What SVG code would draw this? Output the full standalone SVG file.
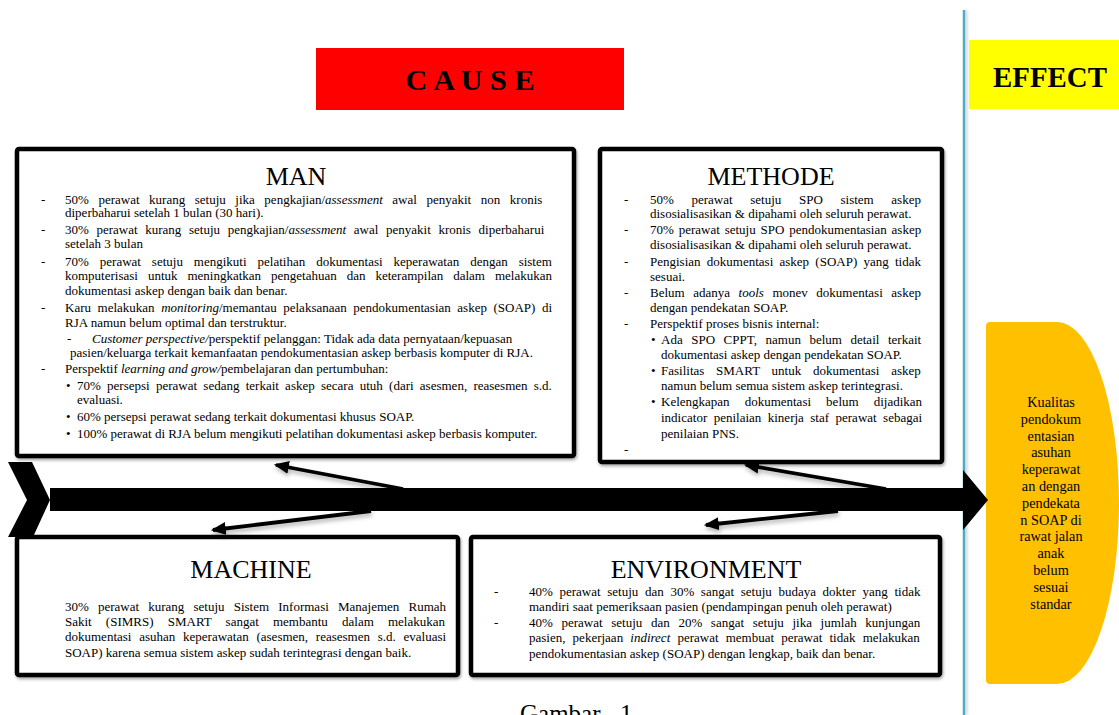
<svg xmlns="http://www.w3.org/2000/svg" width="1119" height="715" viewBox="0 0 1119 715">
<defs>
<style>
.box{fill:#fff;stroke:#000;stroke-width:4.5}
.title{font-family:"Liberation Serif","Times New Roman",serif;font-size:26px;text-anchor:middle;fill:#000}
.body{font-family:"Liberation Serif","Times New Roman",serif;font-size:13px;fill:#000}
.i{font-family:"Liberation Serif","Times New Roman","DejaVu Serif",serif;font-style:italic}
.blue{stroke:#4bacc6;stroke-width:2.5;fill:none}
.conn{stroke:#000;stroke-width:3.8;fill:none;marker-end:url(#ah)}
.eff{font-family:"Liberation Serif","Times New Roman",serif;font-size:14.3px;text-anchor:middle;fill:#000}
</style>
<filter id="sh" x="-5%" y="-5%" width="110%" height="115%">
<feDropShadow dx="1" dy="2" stdDeviation="1.5" flood-color="#000" flood-opacity="0.35"/>
</filter>
<filter id="lsh" x="-5%" y="-50%" width="110%" height="300%">
<feDropShadow dx="1" dy="3" stdDeviation="2" flood-color="#000" flood-opacity="0.3"/>
</filter>
<filter id="vsh" filterUnits="userSpaceOnUse" x="950" y="0" width="30" height="715">
<feDropShadow dx="2" dy="0" stdDeviation="1.5" flood-color="#000" flood-opacity="0.2"/>
</filter>
<marker id="ah" viewBox="0 0 14 12" refX="12" refY="6" markerWidth="15" markerHeight="13" markerUnits="userSpaceOnUse" orient="auto">
<path d="M0,0 L14,6 L0,12 Z" fill="#000"/>
</marker>
</defs>
<rect width="1119" height="715" fill="#fff"/>

<g id="axes">
<line class="blue" x1="15" y1="127" x2="1113" y2="127" filter="url(#lsh)"/>
<line class="blue" x1="964" y1="10" x2="964" y2="715" filter="url(#vsh)"/>
</g>

<g id="cause-label">
<rect x="316" y="48" width="308" height="62" fill="#ff0000"/>
<text x="470" y="90" font-family="'Liberation Serif','Times New Roman',serif" font-weight="bold" font-size="29" text-anchor="middle" textLength="129" lengthAdjust="spacingAndGlyphs">C A U S E</text>
</g>

<g id="effect-label">
<rect x="969" y="40" width="150" height="69" fill="#ffff00"/>
<text x="1050" y="87" font-family="'Liberation Serif','Times New Roman',serif" font-weight="bold" font-size="30" text-anchor="middle" textLength="114" lengthAdjust="spacingAndGlyphs">EFFECT</text>
</g>

<g id="man">
<rect class="box" x="17" y="149" width="557" height="307" rx="2" filter="url(#sh)"/>
<text class="title" x="296" y="185">MAN</text>
<g class="body" font-family="'Liberation Serif','Times New Roman',serif" font-size="13">
<text x="41" y="203.5">-</text>
<text x="65" y="203.5" word-spacing="6.3">50% perawat kurang setuju jika pengkajian/<tspan class="i">assessment</tspan> awal penyakit non kronis</text>
<text x="65" y="217">diperbaharui setelah 1 bulan (30 hari).</text>
<text x="41" y="233.5">-</text>
<text x="65" y="233.5" word-spacing="4.4">30% perawat kurang setuju pengkajian/<tspan class="i">assessment</tspan> awal penyakit kronis diperbaharui</text>
<text x="65" y="247.5">setelah 3 bulan</text>
<text x="41" y="265.5">-</text>
<text x="65" y="265.5" word-spacing="7.7">70% perawat setuju mengikuti pelatihan dokumentasi keperawatan dengan sistem</text>
<text x="65" y="279.5" word-spacing="6.7">komputerisasi untuk meningkatkan pengetahuan dan keterampilan dalam melakukan</text>
<text x="65" y="294.5">dokumentasi askep dengan baik dan benar.</text>
<text x="41" y="311.5">-</text>
<text x="65" y="311.5" word-spacing="3.3">Karu melakukan <tspan class="i">monitoring</tspan>/memantau pelaksanaan pendokumentasian askep (SOAP) di</text>
<text x="65" y="326.5">RJA namun belum optimal dan terstruktur.</text>
<text x="67" y="342.5">-</text>
<text x="92" y="342.5"><tspan class="i">Customer perspective/</tspan>perspektif pelanggan: Tidak ada data pernyataan/kepuasan</text>
<text x="70" y="356.5">pasien/keluarga terkait kemanfaatan pendokumentasian askep berbasis komputer di RJA.</text>
<text x="41" y="372.5">-</text>
<text x="65" y="372.5">Perspektif <tspan class="i">learning and grow/</tspan>pembelajaran dan pertumbuhan:</text>
<text x="66" y="389.5">•</text>
<text x="77" y="389.5" word-spacing="3">70% persepsi perawat sedang terkait askep secara utuh (dari asesmen, reasesmen s.d.</text>
<text x="77" y="403.5">evaluasi.</text>
<text x="66" y="420.5">•</text>
<text x="77" y="420.5">60% persepsi perawat sedang terkait dokumentasi khusus SOAP.</text>
<text x="66" y="437.5">•</text>
<text x="77" y="437.5">100% perawat di RJA belum mengikuti pelatihan dokumentasi askep berbasis komputer.</text>
</g>
</g>

<g id="methode">
<rect class="box" x="600" y="149" width="342" height="313" rx="2" filter="url(#sh)"/>
<text class="title" x="771" y="185">METHODE</text>
<g class="body" font-family="'Liberation Serif','Times New Roman',serif" font-size="13">
<text x="624" y="203.5">-</text>
<text x="650" y="203.5" word-spacing="14.4">50% perawat setuju SPO sistem askep</text>
<text x="650" y="217.5">disosialisasikan &amp; dipahami oleh seluruh perawat.</text>
<text x="624" y="233.5">-</text>
<text x="650" y="233.5" word-spacing="1.6">70% perawat setuju SPO pendokumentasian askep</text>
<text x="650" y="248.5">disosialisasikan &amp; dipahami oleh seluruh perawat.</text>
<text x="624" y="265.5">-</text>
<text x="650" y="265.5" word-spacing="3">Pengisian dokumentasi askep (SOAP) yang tidak</text>
<text x="650" y="280.5">sesuai.</text>
<text x="624" y="296.5">-</text>
<text x="650" y="296.5" word-spacing="5.3">Belum adanya <tspan class="i">tools</tspan> monev dokumentasi askep</text>
<text x="650" y="311.5">dengan pendekatan SOAP.</text>
<text x="624" y="327.5">-</text>
<text x="650" y="327.5">Perspektif proses bisnis internal:</text>
<text x="651" y="343.5">•</text>
<text x="661" y="343.5" word-spacing="5.3">Ada SPO CPPT, namun belum detail terkait</text>
<text x="661" y="358.5">dokumentasi askep dengan pendekatan SOAP.</text>
<text x="651" y="374.5">•</text>
<text x="661" y="374.5" word-spacing="8.5">Fasilitas SMART untuk dokumentasi askep</text>
<text x="661" y="389.5">namun belum semua sistem askep terintegrasi.</text>
<text x="651" y="405.5">•</text>
<text x="661" y="405.5" word-spacing="11.8">Kelengkapan dokumentasi belum dijadikan</text>
<text x="661" y="421.5" word-spacing="3.2">indicator penilaian kinerja staf perawat sebagai</text>
<text x="661" y="437.5">penilaian PNS.</text>
<text x="624" y="453.5">-</text>
</g>
</g>

<g id="machine">
<rect class="box" x="17" y="537" width="441" height="138" rx="2" filter="url(#sh)"/>
<text class="title" x="251" y="578">MACHINE</text>
<g class="body" font-family="'Liberation Serif','Times New Roman',serif" font-size="13">
<text x="65" y="610.5" word-spacing="5.9">30% perawat kurang setuju Sistem Informasi Manajemen Rumah</text>
<text x="65" y="625.5" word-spacing="10.9">Sakit (SIMRS) SMART sangat membantu dalam melakukan</text>
<text x="65" y="641" word-spacing="4.5">dokumentasi asuhan keperawatan (asesmen, reasesmen s.d. evaluasi</text>
<text x="65" y="656.5">SOAP) karena semua sistem askep sudah terintegrasi dengan baik.</text>
</g>
</g>

<g id="environment">
<rect class="box" x="471" y="537" width="469" height="138" rx="2" filter="url(#sh)"/>
<text class="title" x="706" y="578">ENVIRONMENT</text>
<g class="body" font-family="'Liberation Serif','Times New Roman',serif" font-size="13">
<text x="494" y="595.5">-</text>
<text x="529" y="595.5" word-spacing="3.4">40% perawat setuju dan 30% sangat setuju budaya dokter yang tidak</text>
<text x="529" y="610.5">mandiri saat pemeriksaan pasien (pendampingan penuh oleh perawat)</text>
<text x="494" y="626.5">-</text>
<text x="529" y="626.5" word-spacing="5.4">40% perawat setuju dan 20% sangat setuju jika jumlah kunjungan</text>
<text x="529" y="641.5" word-spacing="3.9">pasien, pekerjaan <tspan class="i">indirect</tspan> perawat membuat perawat tidak melakukan</text>
<text x="529" y="657.5">pendokumentasian askep (SOAP) dengan lengkap, baik dan benar.</text>
</g>
</g>

<g id="effect">
<path d="M990,322 H1057 A62,181 0 0 1 1057,684 H990 Q986,684 986,680 V326 Q986,322 990,322 Z" fill="#ffc000"/>
<g class="eff" font-family="'Liberation Serif','Times New Roman',serif" font-size="14.3" text-anchor="middle">
<text x="1051" y="407">Kualitas</text>
<text x="1051" y="423.8">pendokum</text>
<text x="1051" y="440.6">entasian</text>
<text x="1051" y="457.4">asuhan</text>
<text x="1051" y="474.2">keperawat</text>
<text x="1051" y="491">an dengan</text>
<text x="1051" y="507.8">pendekata</text>
<text x="1051" y="524.6">n SOAP di</text>
<text x="1051" y="541.4">rawat jalan</text>
<text x="1051" y="558.2">anak</text>
<text x="1051" y="575">belum</text>
<text x="1051" y="591.8">sesuai</text>
<text x="1051" y="608.6">standar</text>
</g>
</g>

<g id="spine">
<polygon points="8,462 32,462 50,500 33,537 8,537 27,500" fill="#000"/>
<rect x="50" y="488" width="915" height="23" fill="#000"/>
<polygon points="963,470 988,500 963,530" fill="#000"/>
</g>

<g id="connectors" filter="url(#lsh)">
<line class="conn" x1="403" y1="489" x2="276" y2="465"/>
<line class="conn" x1="371" y1="511" x2="213" y2="530"/>
<line class="conn" x1="886" y1="489" x2="746" y2="465"/>
<line class="conn" x1="838" y1="511" x2="706" y2="525"/>
</g>

<g id="caption">
<text x="520" y="722" font-family="'Liberation Serif','Times New Roman',serif" font-size="25">Gambar<tspan x="620">1</tspan></text>
</g>
</svg>
